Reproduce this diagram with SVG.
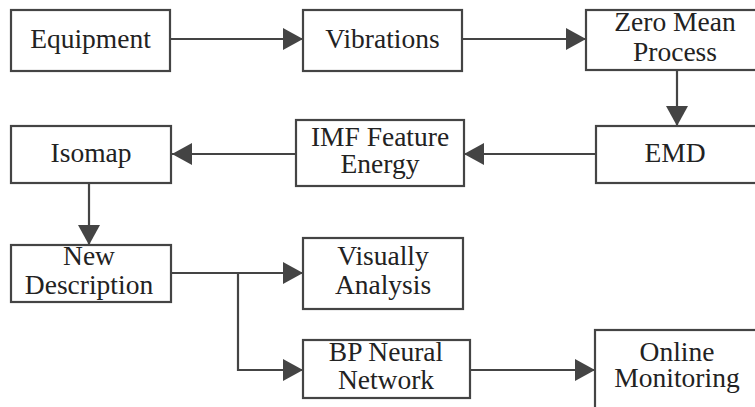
<svg xmlns="http://www.w3.org/2000/svg" width="755" height="407" viewBox="0 0 755 407">
  <style>
    .box { fill: #ffffff; stroke: #444444; stroke-width: 2.2; }
    .lbl { font-family: 'Liberation Serif', 'DejaVu Serif', serif; font-size: 27.5px; fill: #222222; text-anchor: middle; }
    .wire { fill: none; stroke: #444444; stroke-width: 2.2; }
  </style>
  <defs>
    <marker id="arrow" viewBox="0 0 20 22" refX="20" refY="11" markerWidth="20" markerHeight="22" markerUnits="userSpaceOnUse" orient="auto">
      <path d="M0,0 L20,11 L0,22 Z" fill="#444444"/>
    </marker>
  </defs>
  <rect width="755" height="407" fill="#ffffff"/>

  <g id="connectors">
    <path class="wire" d="M170,39 H303" marker-end="url(#arrow)"/>
    <path class="wire" d="M462,39 H586" marker-end="url(#arrow)"/>
    <path class="wire" d="M677,70 V126" marker-end="url(#arrow)"/>
    <path class="wire" d="M596,154 H464" marker-end="url(#arrow)"/>
    <path class="wire" d="M296,154 H172" marker-end="url(#arrow)"/>
    <path class="wire" d="M89,183 V245" marker-end="url(#arrow)"/>
    <path class="wire" d="M171,273 H303" marker-end="url(#arrow)"/>
    <path class="wire" d="M238,273 V370 H303" marker-end="url(#arrow)"/>
    <path class="wire" d="M470,370 H595" marker-end="url(#arrow)"/>
  </g>

  <g id="equipment">
    <rect class="box" x="11" y="10" width="159" height="61"/>
    <text class="lbl" x="90.5" y="48" font-family="Liberation Serif, serif">Equipment</text>
  </g>
  <g id="vibrations">
    <rect class="box" x="303" y="10" width="159" height="61"/>
    <text class="lbl" x="382.5" y="48">Vibrations</text>
  </g>
  <g id="zero-mean">
    <rect class="box" x="586" y="10" width="180" height="60"/>
    <text class="lbl" x="675" y="31">Zero Mean</text>
    <text class="lbl" x="675" y="61">Process</text>
  </g>
  <g id="emd">
    <rect class="box" x="596" y="126" width="170" height="57"/>
    <text class="lbl" x="675" y="162">EMD</text>
  </g>
  <g id="imf-energy">
    <rect class="box" x="296" y="120" width="168" height="66"/>
    <text class="lbl" x="380" y="146">IMF Feature</text>
    <text class="lbl" x="380" y="173">Energy</text>
  </g>
  <g id="isomap">
    <rect class="box" x="11" y="126" width="160" height="57"/>
    <text class="lbl" x="91" y="162">Isomap</text>
  </g>
  <g id="new-description">
    <rect class="box" x="11" y="245" width="160" height="57"/>
    <text class="lbl" x="89" y="265">New</text>
    <text class="lbl" x="89" y="294">Description</text>
  </g>
  <g id="visually-analysis">
    <rect class="box" x="303" y="238" width="160" height="71"/>
    <text class="lbl" x="383" y="265">Visually</text>
    <text class="lbl" x="383" y="294">Analysis</text>
  </g>
  <g id="bp-network">
    <rect class="box" x="303" y="340" width="167" height="58"/>
    <text class="lbl" x="386" y="361">BP Neural</text>
    <text class="lbl" x="386" y="389">Network</text>
  </g>
  <g id="online-monitoring">
    <rect class="box" x="595" y="330" width="170" height="90"/>
    <text class="lbl" x="677" y="361">Online</text>
    <text class="lbl" x="677" y="387">Monitoring</text>
  </g>
</svg>
